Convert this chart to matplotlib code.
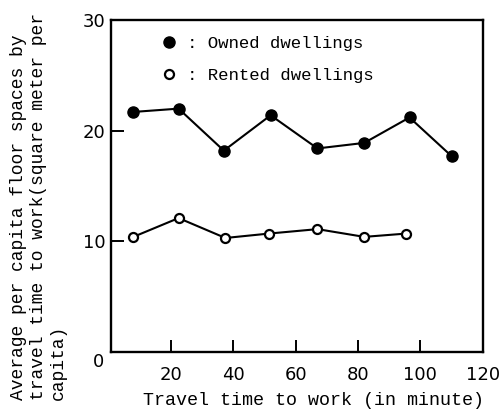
import matplotlib
matplotlib.use("Agg")
import matplotlib.pyplot as plt

owned_x = [8, 22.5, 37, 52, 67, 82, 96.5, 110]
owned_y = [21.7, 22.0, 18.2, 21.4, 18.4, 18.9, 21.2, 17.7]
rented_x = [8, 22.5, 37.5, 51.5, 67, 82, 95.5]
rented_y = [10.4, 12.1, 10.3, 10.7, 11.1, 10.4, 10.7]

x_ticks = [20, 40, 60, 80, 100, 120]
y_ticks = [10, 20, 30]

mono = "Liberation Mono"
sans = "DejaVu Sans"

fig = plt.figure(figsize=(5.04, 4.12), dpi=100)
ax = fig.add_axes([0.220, 0.146, 0.738, 0.805])

ax.plot(owned_x, owned_y, color="black", lw=1.5, marker="o", ms=8,
        mfc="black", mec="black")
ax.plot(rented_x, rented_y, color="black", lw=1.5, marker="o", ms=6.5,
        mfc="white", mec="black", mew=1.6)

ax.set_xlim(0.8, 120)
ax.set_ylim(0, 30)
ax.set_xticks(x_ticks)
ax.set_yticks(y_ticks)
ax.tick_params(direction="in", length=9, width=1.4, labelsize=13)
ax.tick_params(axis="x", pad=10)
ax.tick_params(axis="y", pad=4)
for lab in ax.get_xticklabels() + ax.get_yticklabels():
    lab.set_fontfamily(sans)
ax.text(-0.018, -0.03, "0", transform=ax.transAxes, ha="right", va="center",
        fontsize=13, family=sans)

for s in ax.spines.values():
    s.set_linewidth(1.7)

h1, = ax.plot([], [], "o", color="black", ms=8)
h2, = ax.plot([], [], "o", mfc="white", mec="black", mew=1.6, ms=6.5)
ax.legend([h1, h2], [": Owned dwellings", ": Rented dwellings"],
          loc="upper left", bbox_to_anchor=(0.09, 1.0), frameon=False,
          handlelength=1.0, handletextpad=0.55, labelspacing=1.0,
          prop={"family": mono, "size": 12.5})

ax.set_xlabel("Travel time to work (in minute)", family=mono, fontsize=13.2)
ax.xaxis.set_label_coords(0.546, -0.122)
fig.text(0.02, 0.03,
         "Average per capita floor spaces by\ntravel time to work(square meter per\ncapita)",
         rotation=90, ha="left", va="bottom", multialignment="left",
         family=mono, fontsize=13, linespacing=1.24)

fig.savefig("out.png", dpi=100)
